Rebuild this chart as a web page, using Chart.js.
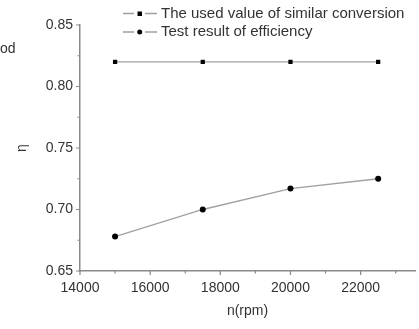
<!DOCTYPE html>
<html>
<head>
<meta charset="utf-8">
<script src="https://cdn.jsdelivr.net/npm/chart.js@4/dist/chart.umd.min.js"></script>
<style>
  html, body { margin: 0; padding: 0; background: #fff; }
  #wrap { width: 419px; height: 329px; }
</style>
</head>
<body>
<div id="wrap"><canvas id="chart" width="419" height="329"></canvas></div>
<script>
// speed points and the two efficiency series
const rpm = [15000, 17500, 20000, 22500];
const usedValue = [0.82, 0.82, 0.82, 0.82];
const testResult = [0.678, 0.700, 0.717, 0.725];
const xTicks = [14000, 16000, 18000, 20000, 22000];
const xMinor = [15000, 17000, 19000, 21000, 23000];
const yTicks = [0.65, 0.70, 0.75, 0.80, 0.85];
const yMinor = [0.675, 0.725, 0.775, 0.825];
const seriesNames = ["The used value of similar conversion", "Test result of efficiency"];

const FONT = "'Liberation Sans', Arial, sans-serif";
const TEXT = "#333";
const AXIS = "#8a8a8a";
const LINE = "#a0a0a0";

const toPoints = (xs, ys) => xs.map((x, i) => ({ x: x, y: ys[i] }));

// outward tick marks, the legend and the cut-off caption on the left
const extras = {
    id: "extras",
    afterDraw(chart) {
        const ctx = chart.ctx;
        const xs = chart.scales.x, ys = chart.scales.y;
        const area = chart.chartArea;
        ctx.save();
        ctx.strokeStyle = AXIS;
        ctx.lineWidth = 1.2;
        ctx.beginPath();
        xTicks.forEach(v => { const px = xs.getPixelForValue(v); ctx.moveTo(px, area.bottom); ctx.lineTo(px, area.bottom + 4); });
        xMinor.forEach(v => { const px = xs.getPixelForValue(v); ctx.moveTo(px, area.bottom); ctx.lineTo(px, area.bottom + 2.5); });
        yTicks.forEach(v => { const py = ys.getPixelForValue(v); ctx.moveTo(area.left, py); ctx.lineTo(area.left - 4, py); });
        yMinor.forEach(v => { const py = ys.getPixelForValue(v); ctx.moveTo(area.left, py); ctx.lineTo(area.left - 2.5, py); });
        ctx.stroke();

        // legend
        const rows = [13.5, 32];
        chart.data.datasets.forEach((ds, i) => {
            const y = rows[i];
            ctx.strokeStyle = LINE;
            ctx.lineWidth = 1.3;
            ctx.beginPath();
            ctx.moveTo(123, y); ctx.lineTo(134, y);
            ctx.moveTo(145, y); ctx.lineTo(157, y);
            ctx.stroke();
            ctx.fillStyle = "#000";
            if (ds.pointStyle === "rect") {
                ctx.fillRect(137.5, y - 2, 4.5, 4.5);
            } else {
                ctx.beginPath(); ctx.arc(139.7, y, 2.5, 0, Math.PI * 2); ctx.fill();
            }
            ctx.fillStyle = TEXT;
            ctx.font = "15px " + FONT;
            ctx.textBaseline = "middle";
            ctx.textAlign = "left";
            ctx.fillText(ds.label, 161, y);
        });

        ctx.fillStyle = TEXT;
        ctx.font = "14px " + FONT;
        ctx.textBaseline = "middle";
        ctx.fillText("od", 0, 49);
        ctx.restore();
    }
};

new Chart(document.getElementById("chart").getContext("2d"), {
    type: "line",
    data: {
        datasets: [{
            label: seriesNames[0],
            data: toPoints(rpm, usedValue),
            borderColor: LINE,
            borderWidth: 1.3,
            pointStyle: "rect",
            pointRadius: 3,
            pointBackgroundColor: "#000",
            pointBorderColor: "#000",
            pointBorderWidth: 0
        }, {
            label: seriesNames[1],
            data: toPoints(rpm, testResult),
            borderColor: LINE,
            borderWidth: 1.3,
            pointStyle: "circle",
            pointRadius: 3,
            pointBackgroundColor: "#000",
            pointBorderColor: "#000",
            pointBorderWidth: 0
        }]
    },
    options: {
        responsive: false,
        animation: false,
        layout: { padding: { top: 25, right: 0, left: 0, bottom: 0 } },
        plugins: { legend: { display: false }, tooltip: { enabled: false } },
        scales: {
            x: {
                type: "linear",
                min: 14000,
                max: 23550,
                afterBuildTicks: (s) => { s.ticks = xTicks.map(v => ({ value: v })); },
                afterFit: (s) => { s.height = 58; },
                grid: { display: false, drawTicks: false },
                border: { display: true, color: AXIS, width: 1.5 },
                ticks: { padding: 9, color: TEXT, font: { family: FONT, size: 14 }, maxRotation: 0, callback: (v) => String(v) },
                title: { display: true, text: "n(rpm)", color: TEXT, font: { family: FONT, size: 14 }, padding: { top: 0, bottom: 9 } }
            },
            y: {
                min: 0.65,
                max: 0.85,
                afterBuildTicks: (s) => { s.ticks = yTicks.map(v => ({ value: v })); },
                afterFit: (s) => { s.width = 80; },
                grid: { display: false, drawTicks: false },
                border: { display: true, color: AXIS, width: 1.5 },
                ticks: { padding: 7, color: TEXT, font: { family: FONT, size: 14 }, callback: (v) => v.toFixed(2) },
                title: { display: true, text: "η", color: TEXT, font: { family: FONT, size: 14 }, padding: { top: 14, bottom: 0 } }
            }
        }
    },
    plugins: [extras]
});
</script>
</body>
</html>
